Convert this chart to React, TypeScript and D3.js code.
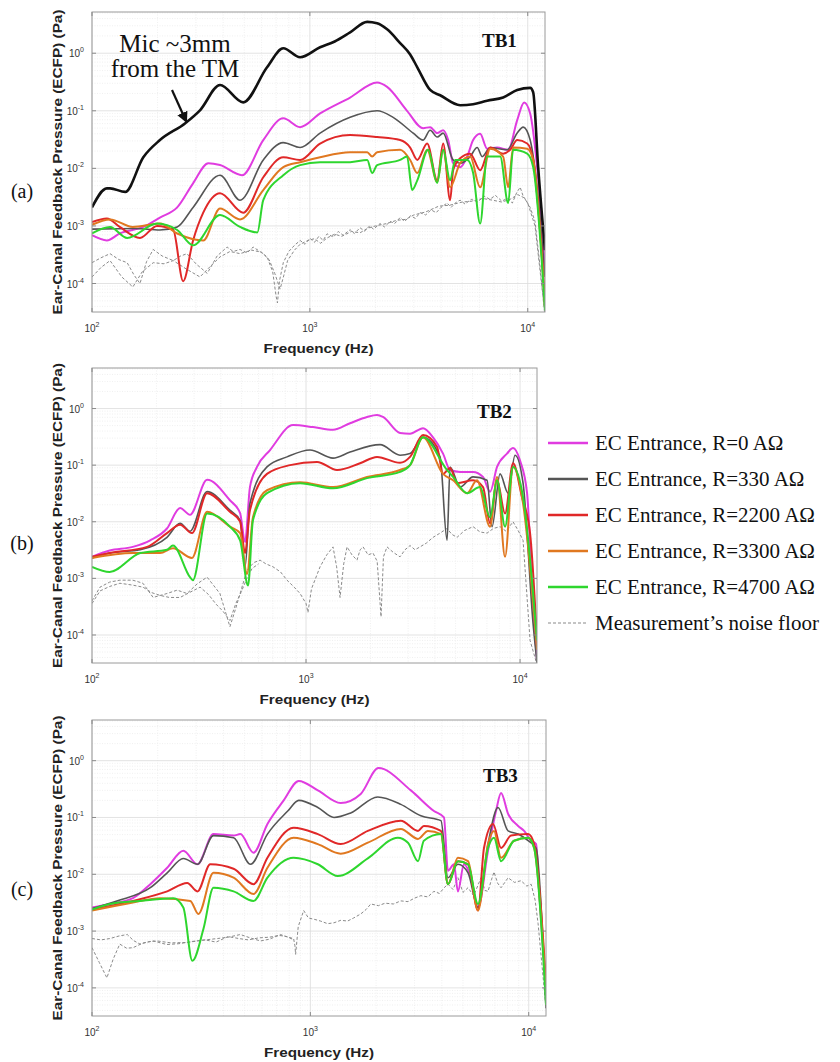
import React from "react";
import * as d3 from "d3";

type Pt = [number, number]; // [frequency Hz, pressure Pa]

// ---------- TB1 ----------
const tb1Mic: Pt[] = [
  [100, 2.1e-3], [117, 4.5e-3], [121, 4.5e-3], [142, 3.9e-3], [172, 0.0156], [205, 0.031], [268, 0.061],
  [313, 0.102], [387, 0.28], [494, 0.14], [636, 0.57], [755, 1.22], [902, 0.85], [1114, 1.27], [1300, 1.6],
  [1530, 2.3], [1833, 3.5], [2035, 3.3], [2262, 2.6], [2596, 1.5], [2886, 0.95], [3112, 0.57], [3565, 0.23],
  [3963, 0.186], [4895, 0.125], [5615, 0.13], [6510, 0.15], [7710, 0.17], [8945, 0.23], [10259, 0.25],
  [10590, 0.21], [11160, 0.0106], [12000, 3.8e-4],
];
const tb1R0: Pt[] = [
  [100, 6.9e-4], [117, 5.6e-4], [134, 7.4e-4], [172, 9.6e-4], [205, 1.4e-3], [246, 2.1e-3], [291, 5.5e-3],
  [342, 0.0123], [387, 0.0114], [488, 7.6e-3], [611, 0.031], [755, 0.074], [902, 0.052], [1114, 0.09],
  [1530, 0.17], [2035, 0.31], [2262, 0.26], [2792, 0.1], [3310, 0.05], [3565, 0.052], [3840, 0.041],
  [4090, 0.046], [4313, 0.031], [4545, 0.0123], [4895, 0.0105], [5273, 0.016], [5615, 0.031], [6048, 0.04],
  [6510, 0.022], [7235, 0.023], [8131, 0.021], [8945, 0.069], [9626, 0.14], [10259, 0.09], [11040, 0.0105],
  [12000, 1.9e-4],
];
const tb1R330: Pt[] = [
  [100, 8.8e-4], [158, 9e-4], [205, 8.5e-4], [246, 9.6e-4], [291, 2.1e-3], [387, 7.6e-3], [478, 2.8e-3],
  [611, 0.014], [755, 0.028], [902, 0.023], [1114, 0.041], [1530, 0.077], [2035, 0.1], [2410, 0.077],
  [2980, 0.041], [3310, 0.031], [3565, 0.046], [3840, 0.035], [4090, 0.041], [4545, 0.014], [4895, 0.0123],
  [5441, 0.016], [5860, 0.023], [6175, 0.016], [6722, 0.023], [8046, 0.021], [8945, 0.041], [9526, 0.052],
  [10259, 0.031], [11040, 4.7e-3], [12000, 1.3e-4],
];
const tb1R2200: Pt[] = [
  [100, 1.17e-3], [117, 1.35e-3], [134, 9.6e-4], [166, 6.2e-4], [199, 1.0e-3], [236, 8.5e-4], [262, 1.1e-4],
  [291, 5.6e-4], [324, 1.7e-3], [387, 3.7e-3], [494, 1.7e-3], [611, 7e-3], [755, 0.0156], [902, 0.014],
  [1114, 0.027], [1530, 0.038], [2035, 0.035], [2596, 0.031], [2886, 0.023], [3112, 0.014], [3454, 0.027],
  [3840, 6.2e-3], [4090, 0.027], [4404, 2.8e-3], [4545, 9.3e-3], [4895, 0.015], [5441, 0.018], [6048, 9.3e-3],
  [6722, 0.023], [7710, 0.018], [8304, 0.021], [8945, 0.031], [9941, 0.027], [10590, 0.014], [12000, 5e-5],
];
const tb1R3300: Pt[] = [
  [100, 1.05e-3], [121, 1.3e-3], [154, 9.6e-4], [205, 1.1e-3], [246, 7.4e-4], [324, 5.6e-4], [387, 2.0e-3],
  [478, 1.3e-3], [611, 4.2e-3], [755, 0.0105], [902, 0.0128], [1114, 0.0156], [1530, 0.019], [1833, 0.019],
  [1931, 0.016], [2035, 0.019], [2596, 0.021], [2886, 0.014], [3112, 8.3e-3], [3454, 0.021], [3840, 5.8e-3],
  [4090, 0.021], [4404, 4.7e-3], [4895, 0.0123], [5441, 0.016], [6048, 4.7e-3], [6722, 0.022], [7710, 0.016],
  [8131, 4.7e-3], [8570, 0.023], [9941, 0.022], [10590, 0.014], [12000, 3.8e-5],
];
const tb1R4700: Pt[] = [
  [100, 7.4e-4], [121, 9.6e-4], [145, 6.2e-4], [199, 1.1e-3], [246, 8.5e-4], [291, 4.6e-4], [387, 1.55e-3],
  [478, 9.6e-4], [574, 7.7e-4], [611, 2.8e-3], [755, 7.6e-3], [902, 0.0114], [1114, 0.0128], [1530, 0.0128],
  [1833, 0.014], [1931, 8.3e-3], [2035, 0.0114], [2596, 0.014], [2792, 0.016], [2948, 4.2e-3], [3112, 6.2e-3],
  [3490, 0.021], [3840, 5.6e-3], [4090, 0.021], [4404, 6.2e-3], [4642, 0.014], [5273, 0.014], [5615, 8.3e-3],
  [6048, 1.1e-3], [6510, 0.016], [7471, 0.016], [8131, 2.5e-3], [8570, 0.021], [9941, 0.018], [10590, 0.0105],
  [12000, 3.4e-5],
];
const tb1Noise1: Pt[] = [
  [100, 2.3e-4], [110, 2.8e-4], [121, 3.3e-4], [133, 2.6e-4], [145, 2.3e-4], [156, 1.4e-4], [166, 1.0e-4],
  [178, 2.4e-4], [191, 3.9e-4], [210, 3.0e-4], [236, 2.5e-4], [255, 3.0e-4], [273, 3.3e-4], [300, 2.2e-4],
  [338, 1.5e-4], [375, 3.0e-4], [417, 4.3e-4], [445, 3.6e-4], [478, 3.9e-4], [515, 3.4e-4], [549, 4.3e-4],
  [590, 3.6e-4], [636, 2.9e-4], [675, 1.6e-4], [700, 6e-5], [710, 4.6e-5], [725, 1.1e-4], [755, 2.3e-4],
  [800, 3.6e-4], [850, 4.6e-4], [902, 5.6e-4], [950, 4.8e-4], [1000, 6.1e-4], [1050, 5.2e-4], [1100, 6.6e-4],
  [1150, 5.6e-4], [1200, 7.3e-4], [1283, 6.4e-4], [1350, 8.0e-4], [1420, 6.9e-4], [1530, 8.6e-4], [1600, 7.4e-4],
  [1700, 9.3e-4], [1780, 8.1e-4], [1880, 1.0e-3], [1960, 8.8e-4], [2100, 1.1e-3], [2200, 9.6e-4], [2336, 1.2e-3],
  [2450, 1.1e-3], [2596, 1.4e-3], [2720, 1.2e-3], [2900, 1.5e-3], [3050, 1.35e-3], [3207, 1.7e-3], [3400, 1.55e-3],
  [3600, 1.9e-3], [3800, 1.7e-3], [4000, 2.1e-3], [4267, 2.5e-3], [4450, 2.1e-3], [4700, 2.6e-3], [4895, 2.8e-3],
  [5150, 2.4e-3], [5500, 2.9e-3], [5900, 2.6e-3], [6300, 3.3e-3], [6700, 2.9e-3], [7100, 3.4e-3], [7600, 2.7e-3],
  [8046, 3.0e-3], [8500, 2.5e-3], [8900, 3.8e-3], [9230, 4.7e-3], [9500, 3.4e-3], [9800, 2.8e-3], [10259, 2.1e-3],
  [10800, 1.2e-3], [11403, 1.9e-4], [12000, 2.6e-5],
];
const tb1Noise2: Pt[] = [
  [100, 1.3e-4], [110, 1.9e-4], [121, 2.5e-4], [137, 1.3e-4], [154, 8.7e-5], [170, 1.6e-4], [191, 2.3e-4],
  [214, 2.2e-4], [236, 2.5e-4], [270, 1.8e-4], [313, 1.3e-4], [350, 2.0e-4], [387, 2.9e-4], [430, 3.6e-4],
  [478, 3.3e-4], [540, 3.8e-4], [600, 3.5e-4], [650, 2.6e-4], [690, 1.5e-4], [730, 8e-5], [760, 1.4e-4],
  [790, 2.5e-4], [850, 3.8e-4], [902, 4.8e-4], [980, 5.6e-4], [1050, 6.0e-4], [1120, 5.0e-4], [1200, 6.2e-4],
  [1300, 7.2e-4], [1400, 6.6e-4], [1550, 8.0e-4], [1700, 7.6e-4], [1850, 9.2e-4], [2000, 1.0e-3], [2250, 1.1e-3],
  [2500, 1.25e-3], [2750, 1.3e-3], [3000, 1.55e-3], [3400, 1.75e-3], [3900, 2.2e-3], [4400, 2.3e-3],
  [5000, 2.6e-3], [5600, 2.7e-3], [6200, 3.0e-3], [6900, 2.8e-3], [7600, 2.6e-3], [8300, 2.9e-3], [9000, 3.5e-3],
  [9600, 3.1e-3], [10000, 2.5e-3], [10800, 1.0e-3], [11500, 1.2e-4], [12000, 3e-5],
];

// ---------- TB2 ----------
const tb2R0: Pt[] = [
  [100, 2.4e-3], [121, 3.1e-3], [155, 3.6e-3], [187, 4.7e-3], [224, 7.6e-3], [258, 0.0175], [287, 0.0133],
  [345, 0.055], [441, 0.024], [492, 0.0142], [519, 4.4e-3], [547, 0.041], [590, 0.093], [679, 0.185],
  [870, 0.51], [1078, 0.47], [1337, 0.42], [1606, 0.55], [1928, 0.71], [2147, 0.77], [2290, 0.71],
  [2749, 0.37], [3062, 0.36], [3521, 0.45], [3922, 0.31], [4367, 0.16], [4710, 0.082], [5244, 0.076],
  [6030, 0.076], [6714, 0.062], [7244, 0.034], [7807, 0.093], [8689, 0.16], [9273, 0.2], [10000, 0.12],
  [10784, 0.032], [11502, 3.1e-4], [12000, 3.6e-5],
];
const tb2R330: Pt[] = [
  [100, 2.3e-3], [121, 2.8e-3], [168, 3.2e-3], [224, 5.3e-3], [258, 9.4e-3], [287, 6.8e-3], [345, 0.034],
  [441, 0.016], [492, 0.0106], [519, 1.6e-3], [547, 0.021], [657, 0.093], [815, 0.14], [1044, 0.185],
  [1337, 0.133], [1606, 0.17], [2218, 0.23], [2749, 0.15], [3062, 0.16], [3521, 0.31], [4228, 0.14],
  [4560, 4.7e-3], [4710, 0.093], [5244, 0.041], [6030, 0.062], [7012, 0.054], [7396, 8.2e-3], [8063, 0.07],
  [8790, 0.032], [9476, 0.15], [10330, 0.048], [11502, 1.6e-4], [12000, 3.2e-5],
];
const tb2R2200: Pt[] = [
  [100, 2.4e-3], [121, 2.8e-3], [181, 3.6e-3], [224, 6.3e-3], [258, 8.9e-3], [293, 6.3e-3], [345, 0.032],
  [441, 0.015], [492, 0.0101], [519, 2.8e-3], [547, 0.016], [657, 0.07], [842, 0.1], [1126, 0.114],
  [1396, 0.082], [1788, 0.108], [2147, 0.14], [2749, 0.11], [3062, 0.14], [3521, 0.34], [4095, 0.21],
  [4367, 0.07], [4710, 0.089], [5077, 0.048], [6030, 0.054], [6714, 0.041], [7244, 9.4e-3], [7807, 0.054],
  [8510, 0.014], [9273, 0.108], [10215, 0.027], [11137, 6.3e-3], [12000, 8e-5],
];
const tb2R3300: Pt[] = [
  [100, 2.3e-3], [155, 2.8e-3], [208, 2.8e-3], [239, 3.4e-3], [293, 2.3e-3], [345, 0.015], [441, 8.2e-3],
  [492, 6.3e-3], [530, 1.2e-3], [565, 0.012], [657, 0.036], [938, 0.05], [1337, 0.041], [1928, 0.062],
  [2749, 0.082], [3062, 0.1], [3521, 0.31], [4367, 0.07], [4864, 0.054], [5655, 0.032], [6293, 0.054],
  [7244, 8.2e-3], [7807, 0.062], [8510, 2.4e-3], [9273, 0.093], [10330, 0.021], [12000, 5.5e-5],
];
const tb2R4700: Pt[] = [
  [100, 1.6e-3], [121, 1.3e-3], [168, 2.8e-3], [224, 3.2e-3], [239, 3.8e-3], [287, 1.05e-3], [296, 9.3e-4],
  [345, 0.014], [441, 8.2e-3], [492, 4.7e-3], [536, 7.5e-4], [565, 0.0106], [657, 0.032], [938, 0.048],
  [1337, 0.039], [1928, 0.059], [2749, 0.076], [3062, 0.1], [3521, 0.31], [4560, 0.082], [4864, 0.062],
  [5655, 0.032], [6501, 0.041], [7244, 0.012], [7807, 0.054], [8510, 8.2e-3], [9273, 0.093], [10330, 0.027],
  [12000, 8e-5],
];
const tb2Noise1: Pt[] = [
  [100, 4e-4], [109, 7e-4], [121, 8.6e-4], [135, 9.3e-4], [155, 9.3e-4], [173, 8.2e-4], [193, 4.6e-4],
  [224, 5.4e-4], [250, 6.2e-4], [278, 5.4e-4], [310, 8.0e-4], [345, 1.05e-3], [370, 7.5e-4], [396, 5.4e-4],
  [441, 1.4e-4], [470, 3.0e-4], [492, 5.4e-4], [530, 1.4e-3], [570, 1.9e-3], [610, 2.1e-3], [650, 1.8e-3],
  [701, 1.6e-3], [760, 1.3e-3], [815, 9.3e-4], [880, 7.0e-4], [938, 5.4e-4], [1000, 3.6e-4], [1021, 2.5e-4],
  [1060, 6.5e-4], [1163, 1.6e-3], [1250, 2.6e-3], [1337, 3.6e-3], [1390, 1.6e-3], [1442, 4.6e-4],
  [1500, 1.8e-3], [1555, 3.6e-3], [1640, 2.6e-3], [1730, 2.1e-3], [1790, 3.2e-3], [1847, 3.6e-3],
  [1950, 2.6e-3], [2056, 2.8e-3], [2150, 2.0e-3], [2241, 2.1e-4], [2300, 2.4e-3], [2390, 3.6e-3],
  [2550, 2.9e-3], [2749, 2.4e-3], [2900, 3.2e-3], [3062, 3.8e-3], [3230, 3.2e-3], [3410, 3.6e-3],
  [3650, 4.2e-3], [3922, 5.3e-3], [4200, 6.2e-3], [4560, 7.6e-3], [4800, 6.0e-3], [5077, 5.3e-3],
  [5500, 7.0e-3], [6030, 8.2e-3], [6500, 6.6e-3], [7012, 6.3e-3], [7500, 7.6e-3], [8063, 8.2e-3],
  [8600, 6.8e-3], [9273, 0.01], [9800, 7.0e-3], [10330, 4.7e-3], [11137, 8e-5], [12000, 3e-5],
];
const tb2Noise2: Pt[] = [
  [100, 3.6e-4], [109, 6e-4], [121, 7.2e-4], [135, 8.2e-4], [155, 7.6e-4], [173, 7e-4], [190, 5.6e-4],
  [208, 5e-4], [230, 4.6e-4], [258, 4.6e-4], [290, 5.8e-4], [320, 7e-4], [350, 5.2e-4], [380, 3.5e-4],
  [410, 2.6e-4], [441, 1.8e-4], [470, 3.6e-4], [500, 6e-4], [530, 1.0e-3], [560, 1.5e-3], [600, 1.8e-3],
];

// ---------- TB3 ----------
const tb3R0: Pt[] = [
  [100, 2.6e-3], [121, 3e-3], [154, 3.8e-3], [185, 6.7e-3], [221, 0.013], [262, 0.026], [304, 0.015],
  [360, 0.051], [445, 0.048], [478, 0.051], [549, 0.024], [636, 0.077], [755, 0.2], [885, 0.44], [1082, 0.3],
  [1377, 0.18], [1701, 0.26], [2050, 0.74], [2886, 0.3], [3680, 0.13], [4090, 0.1], [4267, 0.0115],
  [4545, 0.015], [4741, 5e-3], [5051, 0.015], [5441, 8.7e-3], [5860, 2.6e-3], [6510, 0.026], [7084, 0.13],
  [7471, 0.27], [8046, 0.116], [8945, 0.071], [9526, 0.058], [10259, 0.039], [10810, 0.034], [11160, 5e-3],
  [12000, 8.7e-5],
];
const tb3R330: Pt[] = [
  [100, 2.5e-3], [130, 3.4e-3], [185, 5.8e-3], [221, 0.0106], [262, 0.019], [304, 0.015], [360, 0.048],
  [445, 0.044], [532, 0.015], [636, 0.051], [788, 0.13], [885, 0.2], [1082, 0.15], [1283, 0.1], [1530, 0.12],
  [2035, 0.23], [2596, 0.17], [3207, 0.107], [3963, 0.088], [4267, 8.7e-3], [4741, 0.015], [5273, 0.0106],
  [5860, 2.6e-3], [6510, 0.034], [7235, 0.15], [8046, 0.058], [8945, 0.051], [9941, 0.039], [10810, 0.029],
  [12000, 4.4e-5],
];
const tb3R2200: Pt[] = [
  [100, 2.4e-3], [154, 3.4e-3], [221, 5e-3], [273, 7e-3], [304, 5e-3], [348, 0.015], [445, 0.0125],
  [549, 6.7e-3], [636, 0.0195], [838, 0.066], [1082, 0.051], [1377, 0.034], [1833, 0.058], [2596, 0.088],
  [3112, 0.058], [3310, 0.071], [3963, 0.058], [4267, 6.7e-3], [4741, 0.017], [5273, 0.015], [5860, 2.3e-3],
  [6240, 0.029], [6865, 0.077], [7471, 0.029], [8304, 0.048], [9941, 0.051], [10590, 0.034], [12000, 1.2e-4],
];
const tb3R3300: Pt[] = [
  [100, 2.3e-3], [154, 3.2e-3], [205, 3.8e-3], [282, 3.4e-3], [307, 2e-3], [360, 0.0106], [445, 8.7e-3],
  [549, 4.5e-3], [636, 0.013], [838, 0.044], [1082, 0.034], [1377, 0.023], [1833, 0.036], [2596, 0.063],
  [3112, 0.042], [3454, 0.058], [3963, 0.051], [4267, 6.7e-3], [4741, 0.0195], [5273, 0.017], [5860, 2.3e-3],
  [6510, 0.034], [6936, 0.058], [7471, 0.0195], [8570, 0.039], [9941, 0.044], [10590, 0.029], [12000, 8.7e-5],
];
const tb3R4700: Pt[] = [
  [100, 2.4e-3], [121, 3e-3], [166, 3.4e-3], [236, 3.8e-3], [262, 2.6e-3], [288, 3e-4], [324, 1.1e-3],
  [360, 5.8e-3], [445, 5e-3], [549, 3.4e-3], [636, 8.7e-3], [838, 0.0195], [1082, 0.015], [1336, 9.3e-3],
  [1833, 0.019], [2514, 0.044], [2800, 0.036], [3112, 0.017], [3310, 0.039], [3963, 0.051], [4267, 6.7e-3],
  [4741, 0.017], [5273, 0.015], [5860, 3e-3], [6510, 0.029], [6936, 0.044], [7471, 0.017], [8570, 0.039],
  [9941, 0.044], [10590, 0.029], [12000, 5e-5],
];
const tb3Noise1: Pt[] = [
  [100, 7.4e-4], [110, 7.0e-4], [121, 7.4e-4], [133, 8.2e-4], [145, 8.7e-4], [155, 6.8e-4], [166, 5.9e-4],
  [182, 6.5e-4], [199, 6.7e-4], [230, 6.2e-4], [273, 6.3e-4], [320, 6.9e-4], [376, 7.4e-4], [420, 7.8e-4],
  [478, 8.7e-4], [530, 7.6e-4], [591, 6.7e-4], [650, 7.2e-4], [730, 8.7e-4], [790, 7.8e-4], [838, 7.4e-4],
  [850, 5.5e-4], [856, 3.9e-4], [880, 1.2e-3], [932, 2.3e-3], [980, 1.7e-3], [1050, 1.6e-3], [1114, 1.5e-3],
  [1200, 1.35e-3], [1283, 1.4e-3], [1380, 1.55e-3], [1480, 1.5e-3], [1578, 1.7e-3], [1700, 2.0e-3],
  [1800, 2.4e-3], [1891, 3.0e-3], [2050, 2.8e-3], [2200, 3.1e-3], [2400, 3.0e-3], [2596, 3.4e-3],
  [2800, 3.3e-3], [3000, 3.8e-3], [3207, 4.2e-3], [3450, 4.0e-3], [3680, 5.0e-3], [3900, 4.6e-3],
  [4100, 5.8e-3], [4267, 6.7e-3], [4500, 5.4e-3], [4741, 8.7e-3], [5000, 4.8e-3], [5273, 5.8e-3],
  [5600, 4.2e-3], [6048, 8.7e-3], [6300, 5.2e-3], [6510, 5e-3], [6750, 8e-3], [6936, 0.011], [7200, 7.0e-3],
  [7471, 5.8e-3], [8046, 8.7e-3], [8600, 7.2e-3], [9230, 7.7e-3], [9800, 6.2e-3], [10259, 6.7e-3],
  [10700, 3.5e-3], [11040, 1.35e-3], [12000, 4.4e-5],
];
const tb3Noise2: Pt[] = [
  [100, 5.1e-4], [108, 2.8e-4], [117, 1.5e-4], [125, 3.2e-4], [134, 5.9e-4], [144, 5.0e-4], [154, 5.1e-4],
  [172, 6.2e-4], [191, 6.7e-4], [220, 5.8e-4], [250, 6.0e-4], [290, 6.6e-4], [330, 7.0e-4], [370, 6.4e-4],
  [420, 8.0e-4], [470, 7.4e-4], [520, 7.0e-4], [580, 7.6e-4], [650, 7.8e-4], [720, 8.4e-4], [780, 8.0e-4],
  [840, 7.0e-4],
];

// ---------- legend / axes ----------
const legendLabels = [
  "EC Entrance, R=0 AΩ",
  "EC Entrance, R=330 AΩ",
  "EC Entrance, R=2200 AΩ",
  "EC Entrance, R=3300 AΩ",
  "EC Entrance, R=4700 AΩ",
  "Measurement’s noise floor",
];
const seriesColors = ["#e03ce0", "#555555", "#e02828", "#e07820", "#2ed62e"];
const noiseColor = "#8a8a8a";

const xTickValues = [100, 1000, 10000];
const xTickExps = ["2", "3", "4"];
const yTickValues = [1, 0.1, 0.01, 0.001, 0.0001];
const yTickExps = ["0", "-1", "-2", "-3", "-4"];
const xDomain: [number, number] = [100, 12000];
const yDomain: [number, number] = [3.2e-5, 5.2];

const panels = [
  {
    id: "a", tag: "(a)", name: "TB1", left: 92, right: 545, top: 12, bottom: 312, tagY: 198, nameX: 482, nameY: 47,
    lines: [tb1R0, tb1R330, tb1R2200, tb1R3300, tb1R4700], noise: [tb1Noise1, tb1Noise2], mic: tb1Mic,
  },
  {
    id: "b", tag: "(b)", name: "TB2", left: 92, right: 537, top: 368, bottom: 663, tagY: 550, nameX: 477, nameY: 418,
    lines: [tb2R0, tb2R330, tb2R2200, tb2R3300, tb2R4700], noise: [tb2Noise1, tb2Noise2], mic: null,
  },
  {
    id: "c", tag: "(c)", name: "TB3", left: 92, right: 546, top: 720, bottom: 1016, tagY: 896, nameX: 483, nameY: 782,
    lines: [tb3R0, tb3R330, tb3R2200, tb3R3300, tb3R4700], noise: [tb3Noise1, tb3Noise2], mic: null,
  },
];

const sans = "'Liberation Sans', Arial, Helvetica, sans-serif";
const serif = "'Liberation Serif', 'Times New Roman', Times, serif";

const minorVals = (lo: number, hi: number) => {
  const out: number[] = [];
  for (let e = -6; e <= 5; e++) for (let m = 2; m <= 9; m++) {
    const v = m * Math.pow(10, e);
    if (v > lo && v < hi) out.push(v);
  }
  return out;
};

function Panel({ p }: { p: (typeof panels)[number] }) {
  const x = d3.scaleLog().domain(xDomain).range([p.left, p.right]);
  const y = d3.scaleLog().domain(yDomain).range([p.bottom, p.top]);
  const smooth = d3.line<Pt>().x(d => x(d[0])).y(d => y(d[1])).curve(d3.curveMonotoneX);
  const rough = d3.line<Pt>().x(d => x(d[0])).y(d => y(d[1]));
  const xMinor = minorVals(xDomain[0], xDomain[1]);
  const yMinor = minorVals(yDomain[0], yDomain[1]);
  const clipId = `clip-${p.id}`;
  const midY = (p.top + p.bottom) / 2;
  const midX = (p.left + p.right) / 2;

  return (
    <g>
      <defs>
        <clipPath id={clipId}>
          <rect x={p.left} y={p.top} width={p.right - p.left} height={p.bottom - p.top} />
        </clipPath>
      </defs>
      <rect x={p.left} y={p.top} width={p.right - p.left} height={p.bottom - p.top} fill="#fff" />
      {/* grid */}
      {xMinor.map(v => (
        <line key={"xm" + v} x1={x(v)} x2={x(v)} y1={p.top} y2={p.bottom} stroke="#ececec" strokeWidth={0.8} strokeDasharray="1 1.5" />
      ))}
      {yMinor.map(v => (
        <line key={"ym" + v} x1={p.left} x2={p.right} y1={y(v)} y2={y(v)} stroke="#ececec" strokeWidth={0.8} strokeDasharray="1 1.5" />
      ))}
      {xTickValues.map(v => (
        <line key={"xg" + v} x1={x(v)} x2={x(v)} y1={p.top} y2={p.bottom} stroke="#dcdcdc" strokeWidth={0.8} />
      ))}
      {yTickValues.map(v => (
        <line key={"yg" + v} x1={p.left} x2={p.right} y1={y(v)} y2={y(v)} stroke="#dcdcdc" strokeWidth={0.8} />
      ))}

      {/* data */}
      <g clipPath={`url(#${clipId})`} fill="none" strokeLinejoin="round">
        {p.noise.map((d, i) => (
          <path key={"n" + i} d={rough(d) ?? ""} stroke={noiseColor} strokeWidth={1} strokeDasharray="3 2" />
        ))}
        {p.lines.map((d, i) => (
          <path key={"s" + i} d={smooth(d) ?? ""} stroke={seriesColors[i]} strokeWidth={i === 1 ? 1.6 : 2} />
        ))}
        {p.mic && <path d={smooth(p.mic) ?? ""} stroke="#111" strokeWidth={2.6} />}
      </g>

      {/* box and ticks */}
      <rect x={p.left} y={p.top} width={p.right - p.left} height={p.bottom - p.top} fill="none" stroke="#9a9a9a" strokeWidth={1} />
      {xTickValues.map(v => (
        <g key={"xt" + v} stroke="#8a8a8a">
          <line x1={x(v)} x2={x(v)} y1={p.bottom} y2={p.bottom - 4} />
          <line x1={x(v)} x2={x(v)} y1={p.top} y2={p.top + 4} />
        </g>
      ))}
      {yTickValues.map(v => (
        <g key={"yt" + v} stroke="#8a8a8a">
          <line x1={p.left} x2={p.left + 4} y1={y(v)} y2={y(v)} />
          <line x1={p.right} x2={p.right - 4} y1={y(v)} y2={y(v)} />
        </g>
      ))}

      {/* tick labels */}
      {xTickValues.map((v, i) => (
        <text key={"xl" + v} x={x(v)} y={p.bottom + 20} textAnchor="middle" fontFamily={sans} fontSize={10} fill="#333">
          10<tspan dy={-5} fontSize={7}>{xTickExps[i]}</tspan>
        </text>
      ))}
      {yTickValues.map((v, i) => (
        <text key={"yl" + v} x={p.left - 8} y={y(v) + 4} textAnchor="end" fontFamily={sans} fontSize={10} fill="#333">
          10<tspan dy={-5} fontSize={7}>{yTickExps[i]}</tspan>
        </text>
      ))}

      {/* axis titles */}
      <text x={midX} y={p.bottom + 41} textAnchor="middle" fontFamily={sans} fontWeight="bold" fontSize={13}
        textLength={110} lengthAdjust="spacingAndGlyphs" fill="#222">
        Frequency (Hz)
      </text>
      <text transform={`translate(62, ${midY}) rotate(-90)`} textAnchor="middle" fontFamily={sans} fontWeight="bold"
        fontSize={13} textLength={305} lengthAdjust="spacingAndGlyphs" fill="#222">
        Ear-Canal Feedback Pressure (ECFP) (Pa)
      </text>

      {/* panel tag & name */}
      <text x={22} y={p.tagY} textAnchor="middle" fontFamily={serif} fontSize={20} fill="#111">{p.tag}</text>
      <text x={p.nameX} y={p.nameY} fontFamily={serif} fontWeight="bold" fontSize={19} fill="#111">{p.name}</text>
    </g>
  );
}

export default function App() {
  const legendTop = 443;
  const legendStep = 36;
  return (
    <svg width={840} height={1062} viewBox="0 0 840 1062" style={{ position: "absolute", left: 0, top: 0, background: "#fff" }}>
      <rect width={840} height={1062} fill="#fff" />
      {panels.map(p => <Panel key={p.id} p={p} />)}

      {/* annotation in TB1 */}
      <text x={175} y={52} textAnchor="middle" fontFamily={serif} fontSize={25} fill="#111">Mic ~3mm</text>
      <text x={175} y={77} textAnchor="middle" fontFamily={serif} fontSize={25} fill="#111">from the TM</text>
      <defs>
        <marker id="arrowHead" viewBox="0 0 10 10" refX={8} refY={5} markerWidth={5} markerHeight={5} orient="auto">
          <path d="M0,0 L10,5 L0,10 z" fill="#111" />
        </marker>
      </defs>
      <line x1={172} y1={90} x2={186} y2={121} stroke="#111" strokeWidth={2.2} markerEnd="url(#arrowHead)" />

      {/* legend */}
      {legendLabels.map((label, i) => {
        const cy = legendTop + i * legendStep;
        const isNoise = i === legendLabels.length - 1;
        return (
          <g key={label}>
            <line x1={548} x2={588} y1={cy} y2={cy} stroke={isNoise ? noiseColor : seriesColors[i]}
              strokeWidth={isNoise ? 1.2 : 2.6} strokeDasharray={isNoise ? "3 2" : undefined} />
            <text x={595} y={cy + 7} fontFamily={serif} fontSize={21} fill="#111">{label}</text>
          </g>
        );
      })}
    </svg>
  );
}
